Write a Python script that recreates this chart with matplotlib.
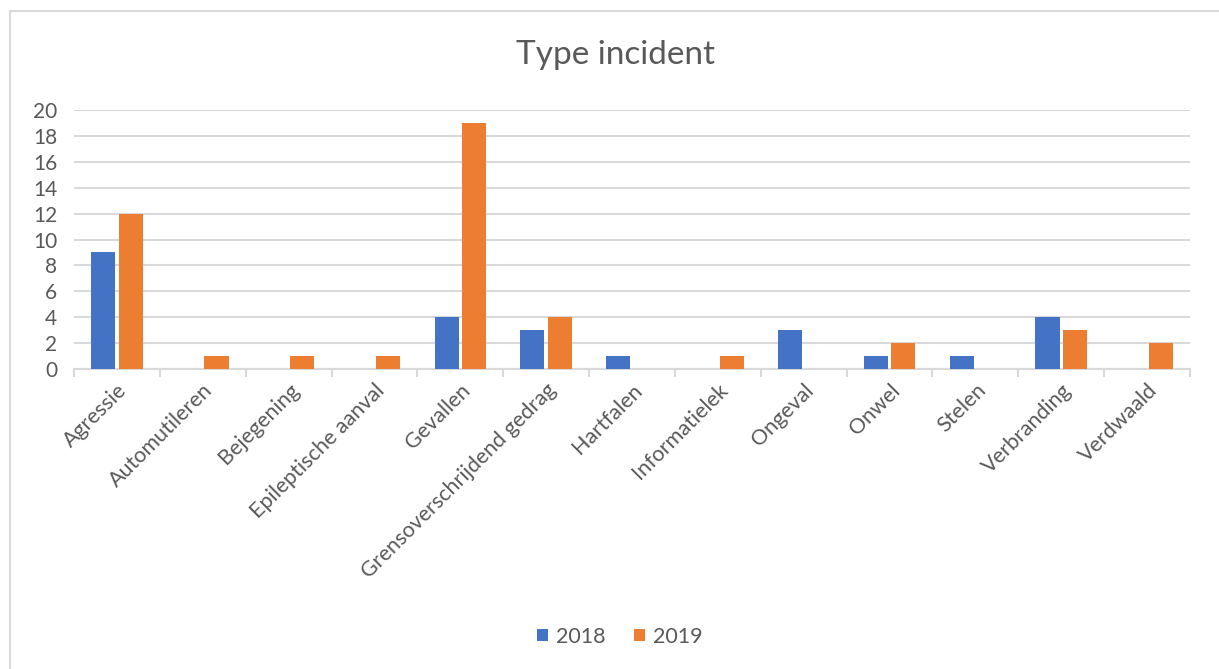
import numpy as np
import matplotlib
matplotlib.use("Agg")
import matplotlib.pyplot as plt
from matplotlib.patches import Rectangle

categories = ["Agressie", "Automutileren", "Bejegening", "Epileptische aanval",
              "Gevallen", "Grensoverschrijdend gedrag", "Hartfalen", "Informatielek",
              "Ongeval", "Onwel", "Stelen", "Verbranding", "Verdwaald"]
values_2018 = [9, 0, 0, 0, 4, 3, 1, 0, 3, 1, 1, 4, 0]
values_2019 = [12, 1, 1, 1, 19, 4, 0, 1, 0, 2, 0, 3, 2]
yticks = [0, 2, 4, 6, 8, 10, 12, 14, 16, 18, 20]

plt.rcParams['font.family'] = ['Lato', 'DejaVu Sans']
text_col = "#595959"
grid_col = "#d9d9d9"

fig = plt.figure(figsize=(12.19, 6.69), dpi=100)
ax = fig.add_axes([74/1219, 1-369/669, (1190-74)/1219, (369-110)/669])

# chart border like excel
fig.patches.append(Rectangle((10/1219, -0.1), 1.2, 1 - 11/669 + 0.1, transform=fig.transFigure,
                             fill=False, edgecolor="#d9d9d9", linewidth=1.5))

x = np.arange(len(categories))
w = 0.28
ax.bar(x - 0.16, values_2018, w, color="#4472c4", label="2018", zorder=3)
ax.bar(x + 0.16, values_2019, w, color="#ed7d31", label="2019", zorder=3)

ax.set_xlim(-0.5, len(categories) - 0.5)
ax.set_ylim(0, 20)
ax.set_yticks(yticks)
ax.set_yticklabels([str(t) for t in yticks], fontsize=15, color=text_col)
ax.yaxis.grid(True, color=grid_col, linewidth=1.5, zorder=0)
ax.tick_params(axis='y', length=0, pad=12)

ax.set_xticks(x)
ax.set_xticklabels(categories, rotation=45, ha='right', rotation_mode='anchor',
                   fontsize=15.5, color=text_col)
ax.set_xticks(np.arange(len(categories) + 1) - 0.5, minor=True)
ax.tick_params(axis='x', which='major', length=0, pad=8)
ax.tick_params(axis='x', which='minor', length=6, color=grid_col, width=1.5)

for s in ['top', 'right', 'left']:
    ax.spines[s].set_visible(False)
ax.spines['bottom'].set_color(grid_col)
ax.spines['bottom'].set_linewidth(1.5)

fig.text(615/1219, 1-55/669, "Type incident", ha='center', va='center',
         fontsize=24, color=text_col)

fig.legend(loc='center', bbox_to_anchor=(620/1219, 1-637/669), ncol=2, frameon=False,
           fontsize=15.5, labelcolor=text_col, handlelength=0.5, handleheight=0.5,
           handletextpad=0.4, columnspacing=1.3)

fig.savefig("out.png", dpi=100)
